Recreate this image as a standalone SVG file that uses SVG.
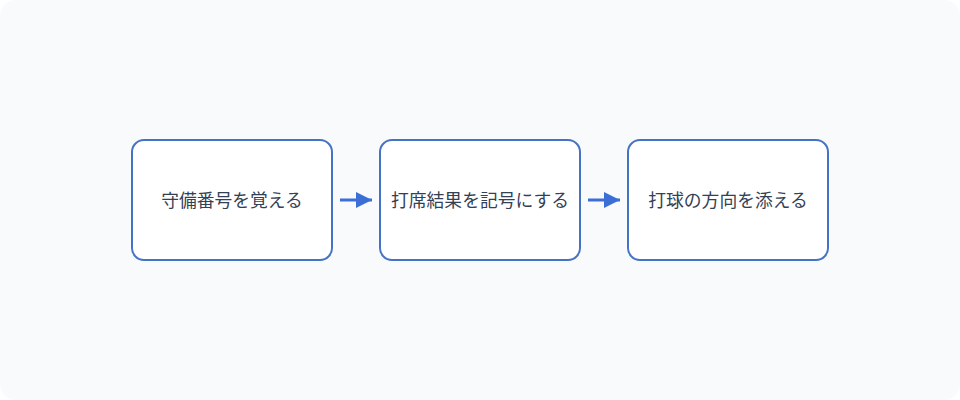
<svg xmlns="http://www.w3.org/2000/svg" width="960" height="400" viewBox="0 0 960 400">
<style>
.node rect{fill:#ffffff;stroke:#4472c4;stroke-width:2}
.node text{font-family:"Noto Sans CJK JP","Liberation Sans",sans-serif;font-size:17.8px;fill:#334155;text-anchor:middle;dominant-baseline:central}
.edge{stroke:#3c6fd6;stroke-width:3;fill:none;marker-end:url(#arr)}
</style>
<defs>
<marker id="arr" viewBox="0 0 10 10" refX="10" refY="5" markerUnits="userSpaceOnUse" markerWidth="17" markerHeight="16" orient="auto">
<path d="M0,0 L10,5 L0,10 z" fill="#3c6fd6"/>
</marker>
</defs>
<rect x="0" y="0" width="960" height="400" rx="16" fill="#f8fafc"/>
<g id="connectors">
<line class="edge" x1="340" y1="200" x2="372" y2="200"/>
<line class="edge" x1="588" y1="200" x2="620" y2="200"/>
</g>
<g id="n1" class="node"><rect x="132" y="140" width="200" height="120" rx="12"/><text x="232" y="199">守備番号を覚える</text></g>
<g id="n2" class="node"><rect x="380" y="140" width="200" height="120" rx="12"/><text x="480" y="199">打席結果を記号にする</text></g>
<g id="n3" class="node"><rect x="628" y="140" width="200" height="120" rx="12"/><text x="728" y="199">打球の方向を添える</text></g>
</svg>
